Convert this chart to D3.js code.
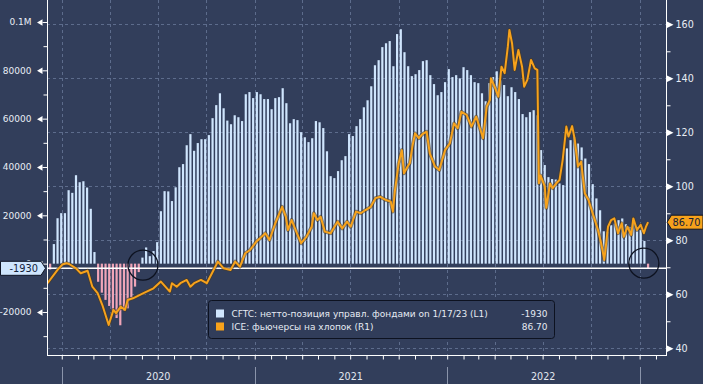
<!DOCTYPE html>
<html>
<head>
<meta charset="utf-8">
<script src="https://cdn.jsdelivr.net/npm/d3@7"></script>
<style>
  body { margin: 0; background: #323e5b; }
  svg text { font-family: "DejaVu Sans", sans-serif; }
</style>
</head>
<body>
<svg id="chart" width="703" height="384"></svg>
<script>
// CFTC managed money net position (cotton), weekly Tuesday reports
var firstReport = "2019-12-03";
var lastReport = "2023-01-17";
var netPosition = [
  -2500, -2400, 8100, 18800, 20900, 20900, 30400, 29300, 36600, 33700, 34100, 31500, 22700, 4800,
  -7500, -12000, -15000, -17500, -19500, -22500, -25500, -19500, -18500, -14000, -9500, -3500,
  2500, 6700, 3100, 5200, 8900, 21700, 30000, 29900, 25900, 31600, 39900, 41200, 49000, 53600,
  46700, 49900, 51500, 51500, 53200, 60200, 65600, 70500, 64300, 59200, 57700, 61400, 60600, 59000,
  70100, 71000, 68500, 71000, 70100, 68100, 68100, 63900, 68500, 68900, 72600, 66400, 58100, 59800,
  59400, 54400, 52300, 50300, 51900, 59000, 58500, 56100, 46500, 36200, 35400, 38300, 42800, 44500,
  53600, 52800, 56900, 59800, 64700, 67600, 73400, 82100, 84200, 89600, 91200, 92100, 81700, 95000,
  97000, 87500, 81700, 77600, 78400, 80100, 83800, 84200, 78000, 74300, 69700, 71000, 75100, 80500,
  77200, 78000, 76700, 81300, 80100, 78000, 75100, 74700, 70500, 67200, 74700, 77200, 79600, 75900,
  73900, 69300, 73000, 71000, 68100, 61900, 60600, 62700, 63500, 61400, 47000, 40800, 35800, 35000,
  34800, 33200, 32500, 47700, 51100, 52500, 49700, 48100, 43500, 41200, 32900, 27000, 22100, 13400,
  13200, 15900, 16600, 18000, 18700, 16300, 15200, 18000, 15200, 13900, 9400, -1930
];

// ICE cotton futures, US cents/lb
var cottonDates = [
  "2019-12-05","2019-12-24","2020-01-02","2020-01-10","2020-01-15","2020-01-28","2020-02-06","2020-02-19",
  "2020-02-28","2020-03-09","2020-03-18","2020-03-30","2020-04-08","2020-04-13","2020-04-22","2020-04-30",
  "2020-05-05","2020-05-15","2020-06-04","2020-06-23","2020-07-07","2020-07-24","2020-07-28","2020-08-06",
  "2020-08-13","2020-08-25","2020-09-01","2020-09-08","2020-09-21","2020-10-02","2020-10-15","2020-10-23",
  "2020-11-03","2020-11-16","2020-11-25","2020-12-04","2020-12-14","2020-12-23","2021-01-04","2021-01-11",
  "2021-01-21","2021-01-29","2021-02-09","2021-02-22","2021-03-01","2021-03-05","2021-03-12","2021-03-22",
  "2021-03-30","2021-04-09","2021-04-19","2021-04-23","2021-04-30","2021-05-06","2021-05-14","2021-05-25",
  "2021-06-07","2021-06-16","2021-06-25","2021-07-02","2021-07-12","2021-07-21","2021-07-30","2021-08-09",
  "2021-08-18","2021-08-27","2021-09-07","2021-09-16","2021-09-20","2021-09-24","2021-10-01","2021-10-07",
  "2021-10-11","2021-10-18","2021-10-22","2021-10-27","2021-11-01","2021-11-08","2021-11-15","2021-11-23",
  "2021-11-29","2021-12-09","2021-12-17","2021-12-28","2022-01-06","2022-01-14","2022-01-21","2022-01-28",
  "2022-02-07","2022-02-16","2022-02-25","2022-03-04","2022-03-10","2022-03-17","2022-03-23","2022-03-25",
  "2022-04-01","2022-04-08","2022-04-14","2022-04-20","2022-04-26","2022-04-29","2022-05-04","2022-05-09",
  "2022-05-16","2022-05-23","2022-05-27","2022-06-02","2022-06-09","2022-06-16","2022-06-21","2022-06-24",
  "2022-06-27","2022-07-05","2022-07-08","2022-07-15","2022-07-20","2022-07-27","2022-08-02","2022-08-08",
  "2022-08-15","2022-08-19","2022-08-26","2022-08-31","2022-09-06","2022-09-12","2022-09-19","2022-09-26",
  "2022-09-30","2022-10-07","2022-10-14","2022-10-20","2022-10-26","2022-11-02","2022-11-08","2022-11-14",
  "2022-11-21","2022-11-28","2022-12-02","2022-12-09","2022-12-16","2022-12-20","2022-12-27","2023-01-03",
  "2023-01-09","2023-01-13","2023-01-17"
];
var cottonPrice = [
  64.1, 69.0, 71.0, 71.5, 71.2, 69.6, 67.8, 68.7,
  62.8, 60.4, 56.0, 48.6, 54.2, 53.0, 55.4, 54.2,
  57.9, 58.5, 60.4, 62.2, 64.7, 61.0, 64.1, 62.8,
  64.1, 65.3, 62.8, 64.1, 65.3, 64.1, 69.0, 72.1,
  69.6, 69.0, 72.1, 70.2, 75.2, 76.4, 79.5, 80.7,
  82.6, 80.1, 86.3, 92.4, 88.7, 83.8, 87.5, 82.6,
  78.9, 81.3, 85.0, 90.0, 87.5, 88.7, 83.2, 82.6,
  86.9, 84.4, 86.9, 85.0, 90.6, 90.0, 91.2, 92.4,
  95.6, 96.1, 94.9, 94.3, 90.6, 98.6, 108.5, 113.4,
  104.8, 107.3, 108.5, 114.7, 119.6, 117.8, 119.3, 120.2,
  112.2, 107.3, 106.0, 113.4, 115.9, 123.3, 121.5, 127.6,
  126.4, 122.1, 125.8, 121.5, 117.8, 129.5, 132.0, 140.0,
  136.9, 133.2, 144.3, 141.9, 151.7, 157.9, 153.0, 143.1,
  150.5, 144.3, 136.9, 139.4, 146.8, 143.7, 143.1, 101.1,
  104.0, 100.0, 92.0, 101.0, 99.3, 101.1, 102.3, 109.7,
  122.1, 118.4, 122.3, 117.2, 107.3, 109.1, 97.4, 94.9,
  92.4, 88.1, 83.8, 78.9, 72.7, 85.0, 87.5, 88.1,
  82.6, 86.3, 81.3, 85.0, 82.0, 88.1, 83.8, 85.7,
  82.6, 85.0, 86.7
];

var leftTicks = [-20000, 0, 20000, 40000, 60000, 80000, 100000];
var leftMinor = [-30000, -10000, 10000, 30000, 50000, 70000, 90000];
var rightTicks = [40, 60, 80, 100, 120, 140, 160];
var rightMinor = [50, 70, 90, 110, 130, 150];
var yearLabels = ["2020", "2021", "2022"];
var lastNet = -1930;
var lastPrice = 86.70;
var legendRows = [
  { label: "CFTC: нетто-позиция управл. фондами on 1/17/23 (L1)", value: "-1930", color: "#cfe5fd" },
  { label: "ICE: фьючерсы на хлопок (R1)", value: "86.70", color: "#f7a21b" }
];
// black rings marking the sign changes
var ringDates = ["2020-06-03", "2023-01-09"];
var ringValues = [-600, 200];

(function () {
  var W = 703, H = 384;
  var pLeft = 47, pRight = 666, pTop = 0, pBottom = 355;
  var parse = d3.timeParse("%Y-%m-%d");

  var x = d3.scaleTime().domain([parse("2019-12-04"), parse("2023-02-20")]).range([pLeft, pRight]);
  var yL = d3.scaleLinear().domain([-37800, 109100]).range([pBottom, pTop]);
  var yR = d3.scaleLinear().domain([37.5, 169]).range([pBottom, pTop]);

  var svg = d3.select("#chart");
  svg.append("rect").attr("width", W).attr("height", H).attr("fill", "#323e5b");

  svg.append("clipPath").attr("id", "plot")
    .append("rect").attr("x", pLeft).attr("y", pTop).attr("width", pRight - pLeft).attr("height", pBottom - pTop);

  // grid
  var grid = svg.append("g").attr("stroke", "#5d6c8c").attr("stroke-dasharray", "3,3").attr("stroke-width", 1);
  grid.selectAll("line.h").data(rightTicks).enter().append("line")
    .attr("x1", pLeft).attr("x2", pRight)
    .attr("y1", function (d) { return Math.round(yR(d)) + 0.5; })
    .attr("y2", function (d) { return Math.round(yR(d)) + 0.5; });
  var quarters = d3.timeMonth.every(3).range(parse("2020-01-01"), parse("2023-02-01"));
  grid.selectAll("line.v").data(quarters).enter().append("line")
    .attr("y1", pTop).attr("y2", pBottom)
    .attr("x1", function (d) { return Math.round(x(d)) + 0.5; })
    .attr("x2", function (d) { return Math.round(x(d)) + 0.5; });

  // bars
  var reportDates = d3.timeTuesday.range(parse(firstReport), d3.timeDay.offset(parse(lastReport), 1));
  var bars = reportDates.map(function (d, i) { return { date: d, v: netPosition[i] }; });
  var barW = 2.2;
  svg.append("g").attr("clip-path", "url(#plot)")
    .selectAll("rect").data(bars).enter().append("rect")
    .attr("x", function (d) { return x(d.date) - barW / 2; })
    .attr("width", barW)
    .attr("y", function (d) { return yL(Math.max(d.v, 0)); })
    .attr("height", function (d) { return Math.abs(yL(d.v) - yL(0)); })
    .attr("fill", function (d) { return d.v >= 0 ? "#cfe5fd" : "#f0a5b8"; });

  // current net position line
  svg.append("line")
    .attr("x1", pLeft).attr("x2", pRight)
    .attr("y1", yL(lastNet)).attr("y2", yL(lastNet))
    .attr("stroke", "#ffffff").attr("stroke-width", 1.5);

  // cotton line
  var prices = cottonDates.map(function (d, i) { return { date: parse(d), v: cottonPrice[i] }; });
  var line = d3.line().x(function (d) { return x(d.date); }).y(function (d) { return yR(d.v); });
  var lg = svg.append("g").attr("clip-path", "url(#plot)");
  lg.append("path").datum(prices).attr("d", line)
    .attr("fill", "none").attr("stroke", "#4a3a22").attr("stroke-width", 3.8).attr("stroke-opacity", 0.6)
    .attr("stroke-linejoin", "round");
  lg.append("path").datum(prices).attr("d", line)
    .attr("fill", "none").attr("stroke", "#f7a21b").attr("stroke-width", 2)
    .attr("stroke-linejoin", "round");

  // rings
  svg.append("g").selectAll("circle").data(ringDates).enter().append("circle")
    .attr("cx", function (d) { return x(parse(d)); })
    .attr("cy", function (d, i) { return yL(ringValues[i]); })
    .attr("r", 15)
    .attr("fill", "none").attr("stroke", "#0d1220").attr("stroke-width", 1.3);

  // frame
  var frame = svg.append("g").attr("stroke", "#ffffff").attr("stroke-width", 1);
  frame.append("line").attr("x1", pLeft + 0.5).attr("x2", pLeft + 0.5).attr("y1", pTop).attr("y2", pBottom + 0.5);
  frame.append("line").attr("x1", pRight + 0.5).attr("x2", pRight + 0.5).attr("y1", pTop).attr("y2", pBottom + 0.5);
  frame.append("line").attr("x1", pLeft).attr("x2", pRight + 1).attr("y1", pBottom + 0.5).attr("y2", pBottom + 0.5);

  // left axis
  var gL = svg.append("g").attr("transform", "translate(" + (pLeft + 0.5) + ",0)");
  gL.call(d3.axisLeft(yL).tickValues(leftTicks).tickSize(5).tickPadding(11)
    .tickFormat(function (d) { return d === 100000 ? "0.1M" : String(d); }));
  gL.append("g").call(d3.axisLeft(yL).tickValues(leftMinor).tickSize(4).tickFormat(""));
  gL.selectAll(".domain").remove();
  gL.selectAll("line").attr("stroke", "#ffffff");
  gL.selectAll(".tick").filter(function (d) { return leftTicks.indexOf(d) >= 0; })
    .append("path").attr("d", "M-5,-3.2L-5,3.2L-10.5,0Z").attr("fill", "#ffffff");
  gL.selectAll("text").attr("fill", "#e8edf5").attr("font-size", "9px").attr("font-family", "DejaVu Sans");

  // right axis
  var gR = svg.append("g").attr("transform", "translate(" + (pRight + 0.5) + ",0)");
  gR.call(d3.axisRight(yR).tickValues(rightTicks).tickSize(0).tickPadding(9));
  gR.append("g").call(d3.axisRight(yR).tickValues(rightMinor).tickSize(4).tickFormat(""));
  gR.selectAll(".domain").remove();
  gR.selectAll("line").attr("stroke", "#ffffff");
  gR.selectAll(".tick").filter(function (d) { return rightTicks.indexOf(d) >= 0; })
    .append("path").attr("d", "M0,-3.5L0,3.5L7,0Z").attr("fill", "#ffffff");
  gR.selectAll("text").attr("fill", "#e8edf5").attr("font-size", "9.6px").attr("font-family", "DejaVu Sans");

  // bottom axis: monthly ticks, year separators and labels
  var gB = svg.append("g").attr("transform", "translate(0," + (pBottom + 0.5) + ")");
  gB.call(d3.axisBottom(x).ticks(d3.timeMonth.every(1)).tickSize(4).tickFormat(""));
  gB.selectAll(".domain").remove();
  gB.selectAll("line").attr("stroke", "#ffffff");
  var years = d3.timeYear.range(parse("2020-01-01"), parse("2023-02-01"));
  svg.append("g").selectAll("line").data(years).enter().append("line")
    .attr("x1", function (d) { return Math.round(x(d)) + 0.5; })
    .attr("x2", function (d) { return Math.round(x(d)) + 0.5; })
    .attr("y1", 367).attr("y2", H)
    .attr("stroke", "#8a94aa").attr("stroke-width", 1);
  svg.append("g").selectAll("text").data(yearLabels).enter().append("text")
    .attr("x", function (d) { return x(new Date(+d, 6, 2)); })
    .attr("y", 380)
    .attr("text-anchor", "middle")
    .attr("fill", "#e3e8f0").attr("font-size", "9.6px")
    .text(function (d) { return d; });

  // last value tags
  var yNet = yL(lastNet);
  svg.append("path")
    .attr("d", "M0.5," + (yNet - 7) + "L41," + (yNet - 7) + "L45.5," + yNet + "L41," + (yNet + 7) + "L0.5," + (yNet + 7) + "Z")
    .attr("fill", "#cfe5fd").attr("stroke", "#101626").attr("stroke-width", 1);
  svg.append("text").attr("x", 38).attr("y", yNet).attr("dy", "0.35em")
    .attr("text-anchor", "end").attr("fill", "#15213a").attr("font-size", "9.8px")
    .text(String(lastNet));

  var yPx = yR(lastPrice);
  svg.append("path")
    .attr("d", "M667," + yPx + "L671.5," + (yPx - 7) + "L703," + (yPx - 7) + "L703," + (yPx + 7) + "L671.5," + (yPx + 7) + "Z")
    .attr("fill", "#f7a21b").attr("stroke", "#101626").attr("stroke-width", 1);
  svg.append("text").attr("x", 672.5).attr("y", yPx).attr("dy", "0.35em")
    .attr("fill", "#15213a").attr("font-size", "9.8px")
    .text(lastPrice.toFixed(2));

  // legend
  var lgd = svg.append("g").attr("transform", "translate(208.5,300.5)");
  lgd.append("rect").attr("width", 346).attr("height", 38).attr("rx", 3)
    .attr("fill", "#313d5a").attr("stroke", "#0d1220").attr("stroke-width", 1);
  var rows = lgd.selectAll("g.row").data(legendRows).enter().append("g")
    .attr("transform", function (d, i) { return "translate(0," + (9 + i * 13) + ")"; });
  rows.append("rect").attr("x", 7.5).attr("y", 0).attr("width", 8).attr("height", 8)
    .attr("fill", function (d) { return d.color; });
  rows.append("text").attr("x", 23).attr("y", 4).attr("dy", "0.35em")
    .attr("fill", "#e6ebf3").attr("font-size", "9px")
    .text(function (d) { return d.label; });
  rows.append("text").attr("x", 339).attr("y", 4).attr("dy", "0.35em")
    .attr("text-anchor", "end")
    .attr("fill", "#e6ebf3").attr("font-size", "9px")
    .text(function (d) { return d.value; });
})();
</script>
</body>
</html>
